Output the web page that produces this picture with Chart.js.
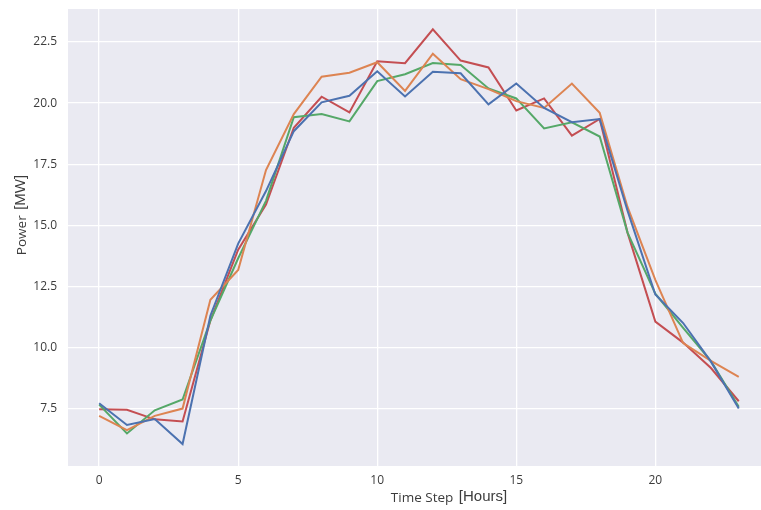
<!DOCTYPE html>
<html>
<head>
<meta charset="utf-8">
<script src="https://cdn.jsdelivr.net/npm/chart.js@4.4.1/dist/chart.umd.min.js"></script>
<style>
  html, body { margin: 0; padding: 0; background: #fff; }
  #wrap { width: 761px; height: 510px; position: relative; }
</style>
</head>
<body>
<div id="wrap"><canvas id="power-chart"></canvas></div>
<script>
const hours = [0, 1, 2, 3, 4, 5, 6, 7, 8, 9, 10, 11, 12, 13, 14, 15, 16, 17, 18, 19, 20, 21, 22, 23];

const seriesBlue   = [7.72, 6.83, 7.07, 6.05, 11.3, 14.25, 16.4, 18.85, 20.03, 20.3, 21.3, 20.27, 21.28, 21.22, 19.95, 20.8, 19.8, 19.22, 19.35, 15.6, 12.17, 11.0, 9.42, 7.5];
const seriesOrange = [7.2, 6.62, 7.2, 7.5, 11.95, 13.17, 17.26, 19.55, 21.08, 21.24, 21.67, 20.5, 22.02, 20.98, 20.57, 20.08, 19.8, 20.8, 19.6, 15.75, 12.77, 10.18, 9.45, 8.8];
const seriesGreen  = [7.66, 6.48, 7.43, 7.87, 11.1, 13.65, 16.0, 19.42, 19.55, 19.25, 20.9, 21.18, 21.64, 21.56, 20.6, 20.19, 18.96, 19.21, 18.63, 14.7, 12.2, 10.8, 9.44, 7.57];
const seriesRed    = [7.47, 7.45, 7.06, 6.97, 11.1, 14.0, 15.85, 18.99, 20.26, 19.62, 21.71, 21.63, 23.02, 21.74, 21.46, 19.7, 20.19, 18.67, 19.35, 14.7, 11.06, 10.2, 9.16, 7.8];

const xTicks = [0, 5, 10, 15, 20];
const yTicks = [7.5, 10.0, 12.5, 15.0, 17.5, 20.0, 22.5];

const toPoints = vals => vals.map((v, i) => ({ x: hours[i], y: v }));

const lineStyle = color => ({
  borderColor: color,
  backgroundColor: color,
  borderWidth: 2,
  pointRadius: 0,
  tension: 0,
  fill: false,
});

const tickFont = { family: 'Open Sans', size: 12 };
const textColor = '#3c3c3c';

// plot background + axis titles (two sizes, like the original labels)
const decorations = {
  id: 'decorations',
  beforeDraw(chart) {
    const { ctx, chartArea: a } = chart;
    ctx.save();
    ctx.fillStyle = '#eaeaf2';
    ctx.fillRect(a.left, a.top, a.right - a.left, a.bottom - a.top);
    ctx.restore();
  },
  afterDraw(chart) {
    const { ctx, chartArea: a } = chart;
    ctx.save();
    ctx.fillStyle = textColor;
    ctx.textBaseline = 'middle';

    // x title
    const small = '13.5px "Open Sans"';
    const big = '15px "Liberation Sans"';
    ctx.font = small;
    const w1 = ctx.measureText('Time Step ').width;
    ctx.font = big;
    const w2 = ctx.measureText('[Hours]').width;
    let x = 448 - (w1 + w2) / 2;
    ctx.font = small;
    ctx.textAlign = 'left';
    ctx.fillText('Time Step ', x, a.bottom + 32);
    ctx.font = big;
    ctx.fillText('[Hours]', x + w1 + 2, a.bottom + 31);

    // y title
    ctx.translate(21, 216);
    ctx.rotate(-Math.PI / 2);
    ctx.font = small;
    const w3 = ctx.measureText('Power ').width;
    ctx.font = big;
    const w4 = ctx.measureText('[MW]').width;
    x = -(w3 + w4) / 2;
    ctx.font = small;
    ctx.fillText('Power ', x, 1);
    ctx.font = big;
    ctx.fillText('[MW]', x + w3 + 2, 0);
    ctx.restore();
  }
};

const canvas = document.getElementById('power-chart');
const ctx = canvas.getContext('2d');

new Chart(ctx, {
  type: 'line',
  data: {
    datasets: [
      { data: toPoints(seriesBlue), ...lineStyle('#4c72b0') },
      { data: toPoints(seriesOrange), ...lineStyle('#dd8452') },
      { data: toPoints(seriesGreen), ...lineStyle('#55a868') },
      { data: toPoints(seriesRed), ...lineStyle('#c44e52') },
    ],
  },
  options: {
    responsive: true,
    maintainAspectRatio: false,
    animation: false,
    layout: { padding: { top: 9, right: 0, left: 0, bottom: 0 } },
    plugins: {
      legend: { display: false },
      tooltip: { enabled: false },
    },
    scales: {
      x: {
        type: 'linear',
        min: -1.12,
        max: 23.8,
        afterBuildTicks: scale => { scale.ticks = xTicks.map(v => ({ value: v })); },
        afterFit: scale => {
          scale.height = 44;
          scale.paddingLeft = 0;
          scale.paddingRight = 0;
        },
        ticks: {
          color: textColor,
          font: tickFont,
          padding: 7,
          maxRotation: 0,
          callback: v => String(v),
        },
        grid: { color: '#ffffff', lineWidth: 1.3, drawTicks: false },
        border: { display: false },
      },
      y: {
        min: 5.15,
        max: 23.85,
        afterBuildTicks: scale => { scale.ticks = yTicks.map(v => ({ value: v })); },
        afterFit: scale => {
          scale.width = 68;
          scale.paddingTop = 0;
          scale.paddingBottom = 0;
        },
        ticks: {
          color: textColor,
          font: tickFont,
          padding: 11,
          callback: v => v.toFixed(1),
        },
        grid: { color: '#ffffff', lineWidth: 1.3, drawTicks: false },
        border: { display: false },
      },
    },
  },
  plugins: [decorations],
});
</script>
</body>
</html>
